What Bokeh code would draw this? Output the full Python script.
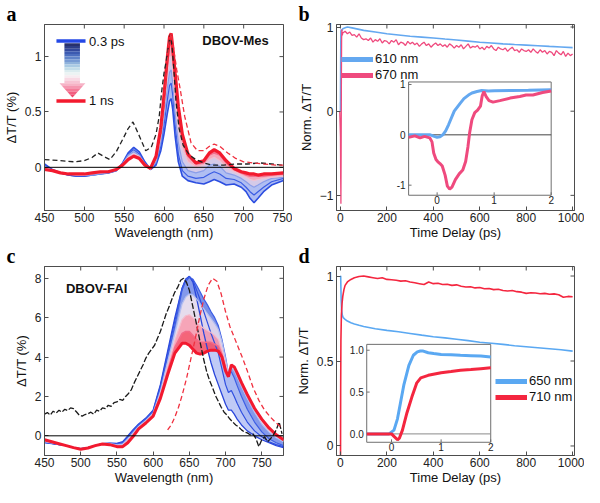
import math
from bokeh.plotting import figure
from bokeh.models import Range1d, FixedTicker, Span, Legend, LegendItem, Title
from bokeh.layouts import gridplot
from bokeh.embed import file_html
from bokeh.resources import INLINE
from bokeh.core.properties import value

SANS = "Liberation Sans"
SERIF = "Liberation Serif"
FRAME = "#4d4d4d"
NAN = float("nan")

# ======================= DATA =======================
# ---- panel a : DBOV-Mes transient spectra (0.3 ps -> 1 ns) ----
wl_a = [450, 460, 470, 480, 490, 500, 510, 520, 530, 540, 548, 555, 562, 569, 576, 583, 590, 596, 600, 604,
        607, 609, 611, 614, 618, 623, 630, 640, 650, 657, 663, 670, 678, 688, 697, 703, 708, 713, 718, 725,
        735, 750]
a_0p3ps = [0.03, -0.02, -0.05, -0.07, -0.08, -0.08, -0.07, -0.06, -0.05, -0.03, 0.04, 0.13, 0.18, 0.14, 0.05, -0.02, 0.02, 0.15, 0.30, 0.48,
           0.60, 0.62, 0.52, 0.28, 0.05, -0.08, -0.12, -0.14, -0.15, -0.13, -0.11, -0.13, -0.16, -0.15, -0.18, -0.22, -0.28, -0.32, -0.28, -0.22,
           -0.16, -0.12]
a_t1 = [0.02, -0.03, -0.05, -0.07, -0.08, -0.08, -0.07, -0.06, -0.05, -0.03, 0.03, 0.12, 0.16, 0.12, 0.04, -0.02, 0.03, 0.19, 0.38, 0.60,
        0.74, 0.76, 0.65, 0.38, 0.12, -0.03, -0.08, -0.10, -0.09, -0.06, -0.04, -0.06, -0.10, -0.11, -0.14, -0.18, -0.22, -0.25, -0.22, -0.18,
        -0.13, -0.10]
a_t2 = [0.01, -0.03, -0.05, -0.06, -0.07, -0.07, -0.07, -0.06, -0.05, -0.03, 0.03, 0.11, 0.14, 0.11, 0.03, -0.02, 0.05, 0.23, 0.45, 0.71,
        0.86, 0.88, 0.76, 0.48, 0.22, 0.05, -0.03, -0.05, -0.03, 0.02, 0.03, 0.01, -0.05, -0.07, -0.10, -0.13, -0.16, -0.18, -0.16, -0.13,
        -0.10, -0.09]
a_t3 = [0.00, -0.03, -0.05, -0.06, -0.07, -0.07, -0.06, -0.05, -0.04, -0.02, 0.03, 0.09, 0.12, 0.10, 0.03, -0.02, 0.07, 0.28, 0.52, 0.82,
        0.99, 1.00, 0.88, 0.60, 0.36, 0.17, 0.05, 0.00, 0.02, 0.07, 0.09, 0.06, 0.00, -0.04, -0.07, -0.09, -0.11, -0.12, -0.11, -0.10,
        -0.09, -0.08]
a_t4 = [-0.01, -0.03, -0.05, -0.06, -0.06, -0.06, -0.05, -0.05, -0.04, -0.02, 0.02, 0.08, 0.11, 0.09, 0.02, -0.01, 0.09, 0.33, 0.60, 0.92,
        1.10, 1.12, 0.98, 0.75, 0.48, 0.26, 0.10, 0.03, 0.04, 0.11, 0.13, 0.11, 0.04, -0.02, -0.05, -0.07, -0.08, -0.08, -0.08, -0.08,
        -0.07, -0.06]
a_1ns = [-0.02, -0.03, -0.05, -0.06, -0.06, -0.06, -0.05, -0.04, -0.04, -0.02, 0.02, 0.07, 0.10, 0.08, 0.02, -0.01, 0.10, 0.36, 0.65, 0.98,
         1.18, 1.21, 1.08, 0.85, 0.55, 0.30, 0.12, 0.04, 0.06, 0.13, 0.16, 0.13, 0.06, -0.01, -0.04, -0.05, -0.06, -0.06, -0.07, -0.06,
         -0.06, -0.05]
a_abs_wl = [450, 470, 487, 500, 510, 517, 524, 532, 540, 548, 555, 561, 568, 577, 584, 590, 594, 597, 600, 603, 606, 608, 610, 612,
            615, 619, 624, 632, 640, 650, 660, 675, 690, 705, 720, 735, 748]
a_abs = [0.07, 0.06, 0.05, 0.06, 0.09, 0.13, 0.10, 0.07, 0.14, 0.25, 0.35, 0.41, 0.30, 0.15, 0.18, 0.30, 0.46, 0.68, 0.85, 0.97, 1.12, 1.20, 1.10, 0.92,
         0.60, 0.35, 0.20, 0.11, 0.07, 0.04, 0.02, 0.02, 0.03, 0.03, 0.04, 0.03, 0.02]
a_em_wl = [596, 600, 603, 606, 609, 612, 616, 620, 626, 634, 642, 650, 657, 663, 670, 680, 690, 700, 712, 725, 740, 750]
a_em = [0.30, 0.55, 0.85, 1.12, 1.21, 1.08, 0.88, 0.72, 0.46, 0.22, 0.15, 0.15, 0.19, 0.21, 0.19, 0.13, 0.08, 0.05, 0.04, 0.03, 0.02, 0.02]

# ---- panel c : DBOV-FAI transient spectra (early blue -> late red) ----
wl_c = [450, 460, 470, 480, 490, 500, 510, 520, 530, 540, 550, 558, 565, 572, 580, 590, 600, 610, 620, 630,
        640, 645, 650, 655, 660, 665, 670, 675, 680, 685, 690, 695, 700, 704, 708, 712, 716, 722, 730, 740,
        750, 760, 770, 780]
c_t0 = [-0.35, -0.40, -0.45, -0.50, -0.60, -0.65, -0.60, -0.50, -0.40, -0.37, -0.38, -0.30, 0.00, 0.30, 0.60, 0.90, 1.30, 2.60, 4.30, 6.00,
        7.50, 7.95, 8.10, 7.80, 7.00, 6.10, 5.20, 4.40, 3.70, 3.10, 2.60, 2.10, 1.60, 1.30, 1.30, 1.10, 0.85, 0.55, 0.25, 0.00,
        -0.20, -0.35, -0.50, -0.60]
c_t1 = [-0.34, -0.39, -0.45, -0.50, -0.60, -0.65, -0.60, -0.50, -0.40, -0.38, -0.40, -0.33, -0.04, 0.26, 0.58, 0.88, 1.27, 2.52, 4.18, 5.85,
        7.50, 7.95, 8.10, 7.90, 7.40, 6.90, 6.30, 5.75, 5.20, 4.70, 4.20, 3.40, 2.60, 2.20, 2.30, 2.00, 1.65, 1.20, 0.70, 0.25,
        -0.05, -0.30, -0.45, -0.55]
c_t2 = [-0.33, -0.38, -0.44, -0.50, -0.60, -0.66, -0.60, -0.50, -0.40, -0.39, -0.42, -0.36, -0.08, 0.22, 0.55, 0.85, 1.22, 2.40, 4.00, 5.60,
        7.40, 7.85, 8.05, 7.95, 7.65, 7.30, 6.95, 6.65, 6.30, 6.00, 5.60, 4.90, 4.00, 3.15, 3.25, 2.95, 2.55, 2.00, 1.35, 0.70,
        0.20, -0.15, -0.35, -0.50]
c_t3 = [-0.30, -0.36, -0.43, -0.50, -0.60, -0.66, -0.61, -0.50, -0.41, -0.40, -0.46, -0.42, -0.16, 0.14, 0.48, 0.78, 1.15, 2.25, 3.75, 5.20,
        6.70, 7.05, 7.20, 7.15, 6.95, 6.70, 6.45, 6.20, 5.95, 5.70, 5.40, 4.80, 3.90, 3.20, 3.50, 3.30, 3.00, 2.50, 1.90, 1.20,
        0.60, 0.20, -0.10, -0.30]
c_t4 = [-0.27, -0.34, -0.42, -0.50, -0.60, -0.67, -0.61, -0.50, -0.41, -0.42, -0.50, -0.48, -0.24, 0.06, 0.42, 0.72, 1.08, 2.10, 3.50, 4.85,
        5.90, 6.10, 6.15, 6.00, 5.80, 5.60, 5.45, 5.35, 5.25, 5.10, 4.90, 4.40, 3.65, 3.10, 3.60, 3.45, 3.15, 2.65, 2.05, 1.35,
        0.75, 0.30, 0.00, -0.25]
c_t5 = [-0.23, -0.32, -0.41, -0.50, -0.60, -0.67, -0.62, -0.50, -0.42, -0.44, -0.53, -0.52, -0.30, -0.01, 0.38, 0.68, 1.03, 2.00, 3.30, 4.50,
        5.20, 5.30, 5.30, 5.10, 4.90, 4.75, 4.75, 4.75, 4.75, 4.65, 4.55, 4.15, 3.45, 3.05, 3.60, 3.50, 3.20, 2.70, 2.10, 1.40,
        0.82, 0.38, 0.03, -0.22]
c_late = [-0.20, -0.30, -0.40, -0.50, -0.60, -0.68, -0.62, -0.50, -0.42, -0.45, -0.55, -0.55, -0.35, -0.05, 0.35, 0.65, 1.00, 1.90, 3.10, 4.20,
          4.70, 4.70, 4.60, 4.40, 4.20, 4.15, 4.20, 4.30, 4.35, 4.35, 4.30, 4.00, 3.30, 3.00, 3.60, 3.50, 3.20, 2.70, 2.10, 1.40,
          0.85, 0.40, 0.05, -0.20]
c_abs_wl = list(range(450, 779, 4))
c_abs = [1.10, 1.18, 1.05, 1.25, 1.15, 1.30, 1.20, 1.35, 1.28, 1.42, 1.38, 1.22, 1.05, 1.00, 1.08, 1.12, 1.20, 1.10, 1.30, 1.25,
         1.42, 1.38, 1.55, 1.50, 1.68, 1.72, 1.85, 1.80, 2.00, 2.15, 2.35, 2.70, 3.00, 3.30, 3.60, 3.95, 4.20, 4.40, 4.60, 4.95,
         5.30, 5.75, 6.20, 6.55, 6.95, 7.30, 7.55, 7.90, 8.00, 7.80, 7.40, 6.70, 6.00, 5.30, 4.55, 3.85, 3.25, 2.80, 2.45, 2.05,
         1.75, 1.45, 1.20, 1.05, 0.85, 0.70, 0.55, 0.45, 0.30, 0.20, 0.15, 0.05, 0.10, -0.15, -0.55, -0.20, -0.05, -0.30, -0.15, 0.05,
         0.30, 0.70, 0.10]
c_em_wl = [620, 625, 630, 635, 640, 646, 652, 658, 664, 670, 676, 682, 688, 694, 700, 706, 712, 718, 724, 730, 738, 746, 754, 762, 770, 778]
c_em = [0.30, 0.55, 0.95, 1.45, 2.05, 2.90, 3.90, 4.90, 6.00, 6.95, 7.65, 8.00, 7.85, 7.20, 6.30, 5.55, 5.00, 4.45, 3.90, 3.30, 2.45, 1.80, 1.30, 0.95, 0.65, 0.40]

# ---- panel b : DBOV-Mes kinetics ----
b_t_610 = [0, 1, 2, 4, 7, 10, 20, 30, 50, 75, 100, 150, 200, 250, 300, 350, 400, 450, 500, 550, 600, 650, 700, 750, 800, 850, 900, 950, 1000]
b_610 = [0.0, 0.6, 0.95, 0.97, 0.96, 0.98, 0.99, 1.0, 0.99, 0.975, 0.96, 0.94, 0.92, 0.905, 0.89, 0.88, 0.87, 0.857, 0.845, 0.833, 0.82, 0.81,
         0.80, 0.792, 0.785, 0.778, 0.77, 0.763, 0.755]
b_t_670 = [-3, 0, 1, 2, 3, 4, 5, 6, 8] + list(range(10, 1001, 10))
b_670 = [0.0, -0.3, -0.8, -1.1, -0.5, 0.3, 0.85, 0.97, 0.9,
         0.93, 0.95, 0.92, 0.94, 0.90, 0.91, 0.88, 0.92, 0.87, 0.85,
         0.86, 0.84, 0.87, 0.82, 0.85, 0.83, 0.86, 0.81, 0.84, 0.83,
         0.80, 0.84, 0.82, 0.85, 0.79, 0.82, 0.81, 0.78, 0.83, 0.80,
         0.82, 0.79, 0.81, 0.77, 0.80, 0.82, 0.78, 0.80, 0.76, 0.79,
         0.81, 0.78, 0.80, 0.77, 0.79, 0.76, 0.80, 0.78, 0.75, 0.78,
         0.76, 0.79, 0.74, 0.77, 0.80, 0.75, 0.77, 0.76, 0.78, 0.74,
         0.76, 0.73, 0.77, 0.75, 0.78, 0.74, 0.72, 0.76, 0.74, 0.73,
         0.75, 0.71, 0.74, 0.76, 0.72, 0.73, 0.70, 0.74, 0.72, 0.71,
         0.73, 0.70, 0.74, 0.71, 0.69, 0.73, 0.70, 0.72, 0.68, 0.71,
         0.70, 0.66, 0.72, 0.69, 0.67, 0.71, 0.65, 0.69, 0.66, 0.68]
bi_t_610 = [-0.5, -0.3, -0.12, -0.05, 0.0, 0.05, 0.1, 0.15, 0.2, 0.3, 0.4, 0.47, 0.55, 0.61, 0.7, 0.78, 0.9, 1.0, 1.3, 1.6, 2.0]
bi_610 = [0.0, 0.0, 0.0, -0.03, -0.05, -0.04, 0.0, 0.08, 0.2, 0.47, 0.62, 0.72, 0.79, 0.83, 0.86, 0.88, 0.87, 0.875, 0.88, 0.885, 0.895]
bi_t_670 = [-0.5, -0.39, -0.30, -0.22, -0.13, -0.09, -0.06, -0.02, 0.01, 0.05, 0.09, 0.14, 0.18, 0.22, 0.26, 0.32, 0.39, 0.45, 0.50,
            0.54, 0.57, 0.61, 0.66, 0.71, 0.76, 0.79, 0.82, 0.86, 0.91, 0.98, 1.10, 1.28, 1.45, 1.56, 1.68, 1.85, 2.0]
bi_670 = [-0.05, -0.02, -0.06, -0.03, -0.06, -0.14, -0.36, -0.49, -0.53, -0.57, -0.62, -0.80, -1.02, -1.08, -1.04, -0.89, -0.77, -0.70, -0.53,
          -0.24, 0.04, 0.30, 0.44, 0.49, 0.57, 0.77, 0.86, 0.76, 0.68, 0.65, 0.68, 0.73, 0.76, 0.79, 0.79, 0.84, 0.87]

# ---- panel d : DBOV-FAI kinetics ----
d_t_650 = [0, 1, 2, 3, 5, 8, 12, 20, 30, 45, 60, 80, 100, 150, 200, 250, 300, 350, 400, 450, 500, 550, 600, 650, 700, 750, 800, 850, 900, 950, 1000]
d_650 = [1.0, 1.0, 0.93, 0.86, 0.80, 0.77, 0.755, 0.745, 0.735, 0.725, 0.718, 0.71, 0.703, 0.69, 0.68, 0.672, 0.662, 0.652, 0.643, 0.636,
         0.628, 0.62, 0.61, 0.604, 0.598, 0.59, 0.584, 0.578, 0.572, 0.566, 0.558]
d_t_710 = [-2, 0, 1, 2, 4, 7, 10, 15, 20, 30, 45, 60, 80] + list(range(100, 1001, 20))
d_710 = [-0.3, -0.3, 0.35, 0.62, 0.77, 0.84, 0.88, 0.92, 0.945, 0.965, 0.98, 0.99, 0.997,
         1.0, 0.995, 0.99, 0.985, 0.99, 0.98, 0.978, 0.975, 0.97, 0.972,
         0.965, 0.96, 0.955, 0.95, 0.965, 0.955, 0.957, 0.95, 0.952, 0.945,
         0.948, 0.94, 0.935, 0.937, 0.93, 0.932, 0.925, 0.927, 0.92, 0.922,
         0.915, 0.912, 0.915, 0.908, 0.905, 0.898, 0.902, 0.9, 0.896, 0.898,
         0.893, 0.895, 0.89, 0.875, 0.88, 0.878]
di_t_650 = [-0.5, -0.2, -0.05, 0.05, 0.12, 0.18, 0.25, 0.35, 0.44, 0.52, 0.58, 0.64, 0.74, 0.85, 1.0, 1.2, 1.39, 1.6, 1.8, 2.0]
di_650 = [0.0, 0.0, 0.0, 0.045, 0.18, 0.37, 0.59, 0.82, 0.94, 0.98, 0.99, 0.99, 0.97, 0.96, 0.95, 0.945, 0.94, 0.935, 0.93, 0.92]
di_t_710 = [-0.5, -0.2, 0.0, 0.05, 0.12, 0.16, 0.22, 0.31, 0.41, 0.51, 0.59, 0.74, 1.0, 1.2, 1.39, 1.6, 1.8, 2.0]
di_710 = [0.0, 0.0, 0.0, -0.03, -0.07, -0.05, 0.045, 0.25, 0.44, 0.61, 0.67, 0.70, 0.73, 0.745, 0.76, 0.77, 0.78, 0.79]

# ---- ticks / labels ----
a_xticks = [450, 500, 550, 600, 650, 700, 750]
a_yticks = [0.0, 0.5, 1.0]
c_xticks = [450, 500, 550, 600, 650, 700, 750]
c_yticks = [0, 2, 4, 6, 8]
kin_xticks = [0, 200, 400, 600, 800, 1000]
b_yticks = [-1, 0, 1]
d_yticks = [0.0, 0.5, 1.0]
ins_xticks = [0, 1, 2]
ins_xlabels = ["0", "1", "2"]
bi_yticks = [-1, 0, 1]
bi_ylabels = ["-1", "0", "1"]
di_yticks = [0.0, 0.5, 1.0]
di_ylabels = ["0.0", "0.5", "1.0"]

# ======================= STYLE / LAYOUT =======================
W = 292
H1, H2 = 242, 245
LB, RB_L, RB_R, BB = 38, 9, 10, 30
TB = 21


def style_axis(ax, xaxis):
    ax.axis_line_color = FRAME
    ax.major_tick_line_color = FRAME
    ax.major_tick_in = 4
    ax.major_tick_out = 0
    ax.minor_tick_line_color = None
    ax.major_label_text_font = SANS
    ax.major_label_text_color = "#222222"
    ax.major_label_text_font_size = "12px"
    ax.major_label_standoff = 2 if xaxis else 3
    ax.axis_label_text_font = SANS
    ax.axis_label_text_font_size = "13px"
    ax.axis_label_text_font_style = "normal"
    ax.axis_label_text_color = "#111111"
    ax.axis_label_standoff = 0 if xaxis else 3


def panel(h, right, xr, yr, xticks, yticks, xlabel, ylabel, letter):
    p = figure(width=W, height=h, x_range=Range1d(*xr), y_range=Range1d(*yr),
               output_backend="svg", toolbar_location=None, tools="",
               min_border_left=LB, min_border_right=right, min_border_top=TB, min_border_bottom=BB)
    p.title = Title(text=letter, align="left", offset=-LB, standoff=0,
                    text_font=SERIF, text_font_size="20px", text_font_style="bold", text_color="black")
    p.background_fill_color = "white"
    p.border_fill_color = "white"
    p.grid.visible = False
    p.outline_line_color = FRAME
    p.outline_line_width = 1
    xa, ya = p.xaxis[0], p.yaxis[0]
    xa.ticker = FixedTicker(ticks=xticks)
    ya.ticker = FixedTicker(ticks=yticks)
    xa.axis_label = xlabel
    ya.axis_label = ylabel
    style_axis(xa, True)
    style_axis(ya, False)
    # mirrored inward ticks on top / right frame edges (half of each dash is clipped away)
    p.scatter(x=xticks, y=[yr[1]] * len(xticks), marker="dash", size=8, angle=math.pi / 2,
              line_color=FRAME, line_width=1)
    p.scatter(x=[xr[1]] * len(yticks), y=yticks, marker="dash", size=8, line_color=FRAME, line_width=1)
    return p


def add_inset(p, fw, fh, box, ixr, iyr, yticks, ylabels, zero_color):
    fx0, fx1, fy0, fy1 = box
    sx = (ixr[1] - ixr[0]) / (fx1 - fx0)
    sy = (iyr[1] - iyr[0]) / (fy1 - fy0)
    p.extra_x_ranges = {"ix": Range1d(ixr[0] - fx0 * sx, ixr[0] + (1 - fx0) * sx)}
    p.extra_y_ranges = {"iy": Range1d(iyr[0] - fy0 * sy, iyr[0] + (1 - fy0) * sy)}
    kw = dict(x_range_name="ix", y_range_name="iy")
    p.quad(left=[ixr[0]], right=[ixr[1]], bottom=[iyr[0]], top=[iyr[1]],
           fill_color="white", line_color="#6f6f6f", line_width=1, **kw)
    p.line([ixr[0], ixr[1]], [0, 0], line_color=zero_color, line_width=1, **kw)
    tx = 3 * sx / fw
    ty = 3 * sy / fh
    nx, ny = len(ins_xticks), len(yticks)
    p.segment(x0=ins_xticks, y0=[iyr[0]] * nx, x1=ins_xticks, y1=[iyr[0] + ty] * nx,
              line_color="#6f6f6f", line_width=1, **kw)
    p.segment(x0=[ixr[0]] * ny, y0=yticks, x1=[ixr[0] + tx] * ny, y1=yticks,
              line_color="#6f6f6f", line_width=1, **kw)
    p.text(x=ins_xticks, y=[iyr[0]] * nx, text=ins_xlabels, y_offset=1, text_align="center",
           text_baseline="top", text_font=value(SANS), text_font_size="10px", text_color="#222222", **kw)
    p.text(x=[ixr[0]] * ny, y=yticks, text=ylabels, x_offset=-3, text_align="right",
           text_baseline="middle", text_font=value(SANS), text_font_size="10px", text_color="#222222", **kw)
    return kw


def legend(p, items, loc):
    lg = Legend(items=[LegendItem(label=value(t), renderers=[r]) for t, r in items],
                location=loc, orientation="vertical", background_fill_alpha=0, border_line_color=None,
                label_text_font=SANS, label_text_font_size="13px", label_text_color="#111111",
                glyph_width=32, glyph_height=14, label_height=14, label_standoff=2,
                spacing=1, padding=0, margin=0)
    p.add_layout(lg)


# ======================= PANEL A =======================
pa = panel(H1, RB_L, (450, 750), (-0.39, 1.29), a_xticks, a_yticks,
           "Wavelength (nm)", "ΔT/T (%)", "a")
a_curves = [a_0p3ps, a_t1, a_t2, a_t3, a_t4, a_1ns]
a_line_cols = ["#2c4ee0", "#3a5ce4", "#8a9de9", "#efc2d2", "#f36f8c", "#f31a2e"]
a_fill_cols = ["#4a68e4", "#7088e8", "#c9bde2", "#f39ab0", "#f34560"]
a_fill_alpha = [0.45, 0.55, 0.8, 0.85, 0.85]
a_widths = [1.6, 1.2, 1.2, 1.2, 1.5, 3.2]
for i in range(len(a_curves) - 1):
    pa.varea(x=wl_a, y1=a_curves[i], y2=a_curves[i + 1], fill_color=a_fill_cols[i], fill_alpha=a_fill_alpha[i])
for crv, col, lw in zip(a_curves, a_line_cols, a_widths):
    pa.line(wl_a, crv, line_color=col, line_width=lw)
pa.add_layout(Span(location=0, dimension="width", line_color="black", line_width=1))
pa.line(a_abs_wl, a_abs, line_color="#222222", line_width=1.3, line_dash="5 3")
pa.line(a_em_wl, a_em, line_color="#f0303f", line_width=1.3, line_dash="5 3")
pa.text(x=[648], y=[1.147], text=["DBOV-Mes"], text_font=value(SANS), text_font_size="13px",
        text_font_style="bold", text_baseline="middle", text_color="#111111")

# time-order key (blue -> red arrow)
KEY_X0, KEY_X1 = 465, 501.5
KEY_TOP, KEY_BOT = 1.14, 0.60
pa.line([KEY_X0, KEY_X1], [KEY_TOP, KEY_TOP], line_color="#2448e6", line_width=3.5)
pa.line([KEY_X0, KEY_X1], [KEY_BOT, KEY_BOT], line_color="#f31a2e", line_width=3.5)
grad = ["#27306c", "#2d3d86", "#33499c", "#3c5ab0", "#4c6ebf", "#6084c9", "#779ad3", "#8fb2db",
        "#a9cae3", "#c3dde9", "#dbecef", "#ecf3f3", "#f6ecf1", "#f8d9e4", "#f7c4d4"]
bar_top, bar_bot = 1.12, 0.76
n = len(grad)
hstep = (bar_top - bar_bot) / n
pa.quad(left=[475] * n, right=[494.5] * n,
        top=[bar_top - i * hstep for i in range(n)], bottom=[bar_top - (i + 1) * hstep for i in range(n)],
        fill_color=grad, line_color=None)
head = ["#f6b3c6", "#f597b0", "#f47b98", "#f25f80", "#f0486a"]
hx0, hx1, hxc, htop, hbot = 468.8, 501.4, 485.1, 0.76, 0.63
m = len(head)
xs, ys = [], []
for i in range(m):
    f0, f1 = i / m, (i + 1) / m
    y0, y1 = htop - f0 * (htop - hbot), htop - f1 * (htop - hbot)
    l0, r0 = hx0 + f0 * (hxc - hx0), hx1 - f0 * (hx1 - hxc)
    l1, r1 = hx0 + f1 * (hxc - hx0), hx1 - f1 * (hx1 - hxc)
    xs.append([l0, r0, r1, l1])
    ys.append([y0, y0, y1, y1])
pa.patches(xs, ys, fill_color=head, line_color=None)
pa.text(x=[506, 506], y=[KEY_TOP, KEY_BOT], text=["0.3 ps", "1 ns"], text_font=value(SANS),
        text_font_size="13px", text_baseline="middle", text_color="#111111")

# ======================= PANEL B =======================
pb = panel(H1, RB_R, (-17, 1008), (-1.18, 1.03), kin_xticks, b_yticks,
           "Time Delay (ps)", "Norm. ΔT/T", "b")
B_BLUE, B_PINK = "#64a8f0", "#ef4a7e"
pb.line(b_t_610, b_610, line_color=B_BLUE, line_width=1.6)
pb.line(b_t_670, b_670, line_color=B_PINK, line_width=1.3)
fwb, fhb = W - LB - RB_R, H1 - TB - BB
kb = add_inset(pb, fwb, fhb, (0.303, 0.902, 0.082, 0.691), (-0.5, 2.0), (-1.2, 1.05),
               bi_yticks, bi_ylabels, "#444444")
pb.line(bi_t_610, bi_610, line_color=B_BLUE, line_width=3, **kb)
pb.line(bi_t_670, bi_670, line_color=B_PINK, line_width=3, **kb)
lb1 = pb.line([NAN], [NAN], line_color=B_BLUE, line_width=5)
lb2 = pb.line([NAN], [NAN], line_color=B_PINK, line_width=5)
legend(pb, [("610 nm", lb1), ("670 nm", lb2)], (5, 128))

# ======================= PANEL C =======================
pc = panel(H2, RB_L, (450, 780), (-1.0, 8.6), c_xticks, c_yticks,
           "Wavelength (nm)", "ΔT/T (%)", "c")
c_curves = [c_t0, c_t1, c_t2, c_t3, c_t4, c_t5, c_late]
c_line_cols = ["#2a46db", "#2f4fe0", "#3d5ee4", "#b4bff0", "#f4bccd", "#f36a88", "#f2192f"]
c_fill_cols = ["#4a68e4", "#4565e3", "#6f87e8", "#e2d6ea", "#f595ac", "#f24a62"]
c_fill_alpha = [0.35, 0.45, 0.85, 0.85, 0.85, 0.85]
c_widths = [1.3, 1.2, 1.2, 1.2, 1.2, 1.5, 3.0]
for i in range(len(c_curves) - 1):
    pc.varea(x=wl_c, y1=c_curves[i], y2=c_curves[i + 1], fill_color=c_fill_cols[i], fill_alpha=c_fill_alpha[i])
for crv, col, lw in zip(c_curves, c_line_cols, c_widths):
    pc.line(wl_c, crv, line_color=col, line_width=lw)
pc.add_layout(Span(location=0, dimension="width", line_color="black", line_width=1))
pc.line(c_abs_wl, c_abs, line_color="#1a1a1a", line_width=1.3, line_dash="6 2")
pc.line(c_em_wl, c_em, line_color="#f0303f", line_width=1.3, line_dash="5 3")
pc.text(x=[479.6], y=[7.47], text=["DBOV-FAI"], text_font=value(SANS), text_font_size="13px",
        text_font_style="bold", text_baseline="middle", text_color="#111111")

# ======================= PANEL D =======================
pd_ = panel(H2, RB_R, (-17, 1008), (-0.056, 1.056), kin_xticks, d_yticks,
            "Time Delay (ps)", "Norm. ΔT/T", "d")
D_BLUE, D_RED = "#5aa8f2", "#f4263f"
pd_.line(d_t_650, d_650, line_color=D_BLUE, line_width=1.6)
pd_.line(d_t_710, d_710, line_color=D_RED, line_width=1.6)
fwd, fhd = W - LB - RB_R, H2 - TB - BB
kd = add_inset(pd_, fwd, fhd, (0.127, 0.648, 0.07, 0.588), (-0.5, 2.0), (-0.1, 1.07),
               di_yticks, di_ylabels, "#8a8a8a")
pd_.line(di_t_650, di_650, line_color=D_BLUE, line_width=3, **kd)
pd_.line(di_t_710, di_710, line_color=D_RED, line_width=3, **kd)
ld1 = pd_.line([NAN], [NAN], line_color=D_BLUE, line_width=5)
ld2 = pd_.line([NAN], [NAN], line_color=D_RED, line_width=5)
legend(pd_, [("650 nm", ld1), ("710 nm", ld2)], (159, 51))

grid = gridplot([[pa, pb], [pc, pd_]], toolbar_location=None)
open("out.html", "w").write(file_html(grid, INLINE))
